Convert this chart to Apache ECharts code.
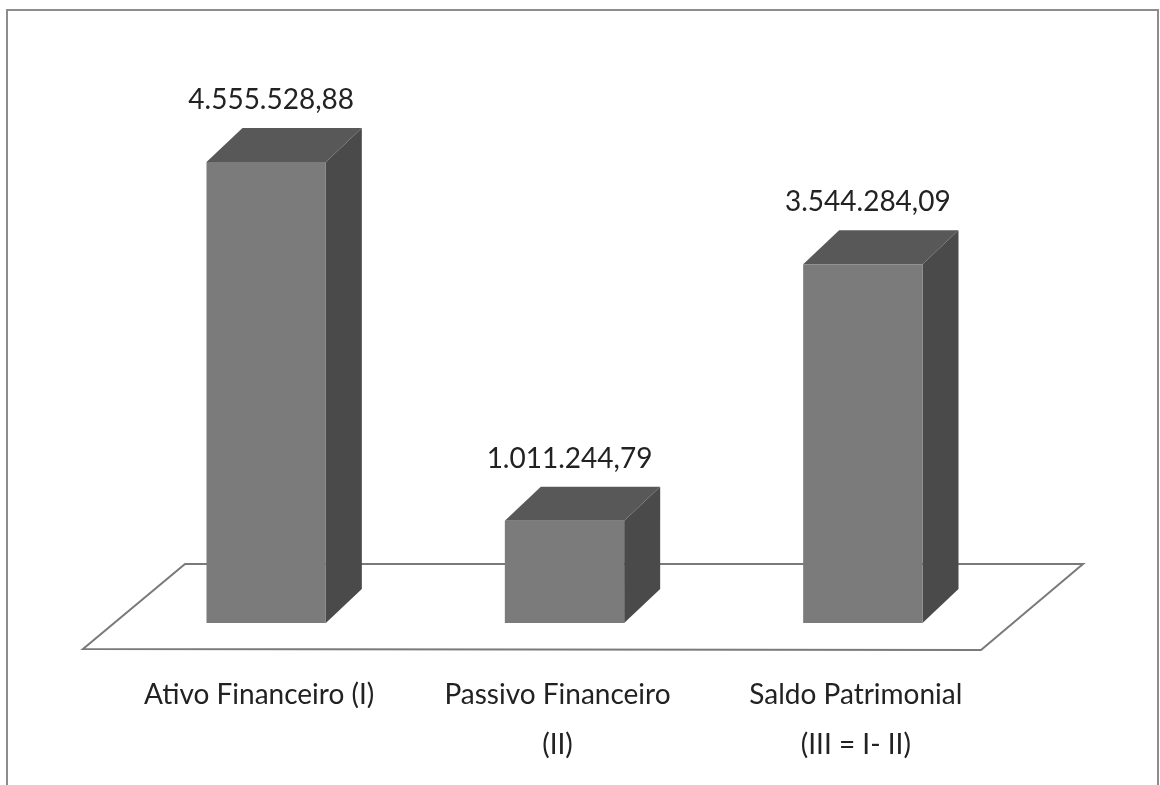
<!DOCTYPE html>
<html>
<head>
<meta charset="utf-8">
<script src="https://cdn.jsdelivr.net/npm/echarts@6/dist/echarts.min.js"></script>
<style>
  html, body { margin: 0; padding: 0; background: #ffffff; }
  #chart { width: 1160px; height: 785px; }
</style>
</head>
<body>
<div id="chart"></div>
<script>
// Balanço financeiro: ativo, passivo e saldo patrimonial
const categories = ['Ativo Financeiro (I)', 'Passivo Financeiro\n(II)', 'Saldo Patrimonial\n(III = I- II)'];
const values = [4555528.88, 1011244.79, 3544284.09];
const valueMax = 5000000;

// Brazilian number format: 1.234.567,89
function formatBR(v) {
  const parts = v.toFixed(2).split('.');
  const intPart = parts[0].replace(/\B(?=(\d{3})+(?!\d))/g, '.');
  return intPart + ',' + parts[1];
}

// 3D box styling
const DEPTH_X = 36;
const DEPTH_Y = -34;
const FRONT = '#7b7b7b';
const TOP = '#585858';
const SIDE = '#4a4a4a';
const TEXT = '#222222';
const FONT = 'Lato, "Open Sans", sans-serif';
const FONT_SIZE = 28;

const chart = echarts.init(document.getElementById('chart'), null, { renderer: 'canvas' });

function renderBox(params, api) {
  const idx = api.value(0);
  const val = api.value(1);
  const top = api.coord([idx, val]);
  const base = api.coord([idx, 0]);
  const band = api.size([1, 0])[0];
  const w = band * 0.4;
  const x0 = top[0] - w / 2;
  const x1 = top[0] + w / 2;
  const yt = top[1];
  const yb = base[1];
  return {
    type: 'group',
    children: [
      {
        type: 'polygon',
        shape: { points: [[x1, yt], [x1 + DEPTH_X, yt + DEPTH_Y], [x1 + DEPTH_X, yb + DEPTH_Y], [x1, yb]] },
        style: { fill: SIDE }
      },
      {
        type: 'polygon',
        shape: { points: [[x0, yt], [x1, yt], [x1 + DEPTH_X, yt + DEPTH_Y], [x0 + DEPTH_X, yt + DEPTH_Y]] },
        style: { fill: TOP }
      },
      {
        type: 'rect',
        shape: { x: x0, y: yt, width: w, height: yb - yt },
        style: { fill: FRONT }
      },
      {
        type: 'text',
        x: top[0] + 5,
        y: yt + DEPTH_Y - 28,
        style: {
          text: formatBR(val),
          fill: TEXT,
          fontFamily: FONT,
          fontSize: FONT_SIZE,
          align: 'center',
          verticalAlign: 'middle'
        }
      }
    ]
  };
}

chart.setOption({
  backgroundColor: '#ffffff',
  animation: false,
  grid: { left: 117, right: 148, top: 117, bottom: 162 },
  graphic: [
    {
      // outer frame
      type: 'rect',
      shape: { x: 7, y: 10, width: 1151, height: 790 },
      style: { fill: 'none', stroke: '#8c8c8c', lineWidth: 2 },
      silent: true
    },
    {
      // floor plane under the boxes
      type: 'polygon',
      shape: { points: [[185, 564], [1083, 564], [981, 650], [83, 649]] },
      style: { fill: '#ffffff', stroke: '#7a7a7a', lineWidth: 2 },
      silent: true
    }
  ],
  xAxis: {
    type: 'category',
    data: categories,
    axisLine: { show: false },
    axisTick: { show: false },
    splitLine: { show: false },
    axisLabel: {
      interval: 0,
      margin: 47,
      color: TEXT,
      fontFamily: FONT,
      fontSize: FONT_SIZE,
      lineHeight: 50,
      align: 'center',
      padding: [0, 14, 0, 0]
    }
  },
  yAxis: {
    type: 'value',
    min: 0,
    max: valueMax,
    show: false,
    splitLine: { show: false }
  },
  series: [
    {
      type: 'custom',
      renderItem: renderBox,
      encode: { x: 0, y: 1 },
      data: values.map((v, i) => [i, v]),
      z: 5
    }
  ]
});
</script>
</body>
</html>
